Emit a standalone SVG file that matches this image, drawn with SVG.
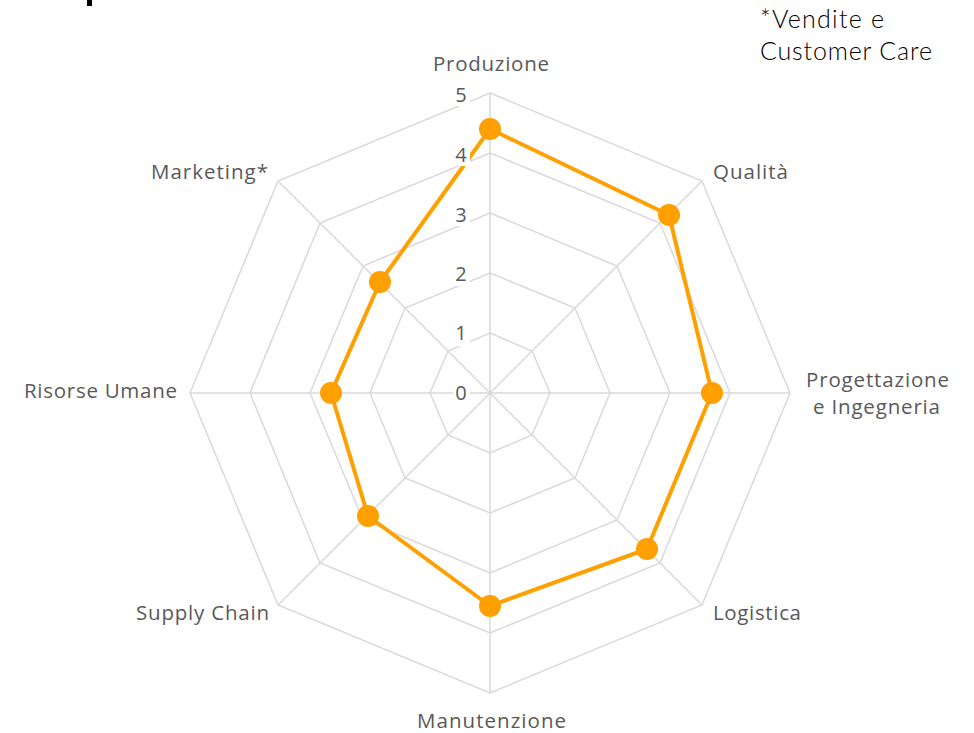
<svg xmlns="http://www.w3.org/2000/svg" width="974" height="733" viewBox="0 0 974 733">
<style>
.grid{fill:none;stroke:#d9d9d9;stroke-width:1.5}
.lbl{font-family:"Open Sans","Noto Sans",sans-serif;font-size:20.5px;fill:#595959}
.num{font-family:"Open Sans","Noto Sans",sans-serif;font-size:20px;fill:#595959;text-anchor:middle}
.note{font-family:"Lato","Liberation Sans",sans-serif;font-size:25px;font-weight:300;fill:#000}
.dot{fill:#FFA000}
</style>
<rect width="974" height="733" fill="#fff"/>
<rect x="87" y="0" width="5" height="6" fill="#000"/>
<g id="grid">
<polygon class="grid" points="490,93 702,181 790,393 702,605 490,693 278,605 190,393 278,181"/>
<polygon class="grid" points="490,153 660,223 730,393 660,563 490,633 320,563 250,393 320,223"/>
<polygon class="grid" points="490,213 617,266 670,393 617,520 490,573 363,520 310,393 363,266"/>
<polygon class="grid" points="490,273 575,308 610,393 575,478 490,513 405,478 370,393 405,308"/>
<polygon class="grid" points="490,333 532,351 550,393 532,435 490,453 448,435 430,393 448,351"/>
<path class="grid" d="M490,393V93M490,393L702,181M490,393H790M490,393L702,605M490,393V693M490,393L278,605M490,393H190M490,393L278,181"/>
</g>
<g id="series">
<polygon points="490,129 669,215 712,393 647,549 490,606 368,516 331,393 380,282" fill="none" stroke="#FFA000" stroke-width="4" stroke-linejoin="round"/>
<circle class="dot" cx="490" cy="129" r="11"/>
<circle class="dot" cx="669" cy="215" r="11"/>
<circle class="dot" cx="712" cy="393" r="11"/>
<circle class="dot" cx="647" cy="549" r="11"/>
<circle class="dot" cx="490" cy="606" r="11"/>
<circle class="dot" cx="368" cy="516" r="11"/>
<circle class="dot" cx="331" cy="393" r="11"/>
<circle class="dot" cx="380" cy="282" r="11"/>
</g>
<g id="axis-values">
<rect x="453" y="84" width="17" height="22" fill="#fff"/>
<rect x="453" y="144" width="17" height="22" fill="#fff"/>
<rect x="453" y="204" width="17" height="22" fill="#fff"/>
<rect x="453" y="264" width="17" height="22" fill="#fff"/>
<rect x="453" y="324" width="17" height="22" fill="#fff"/>
<rect x="453" y="384" width="17" height="22" fill="#fff"/>
<text class="num" x="461" y="102">5</text>
<text class="num" x="461" y="162">4</text>
<text class="num" x="461" y="222">3</text>
<text class="num" x="461" y="281">2</text>
<text class="num" x="461" y="340">1</text>
<text class="num" x="461" y="400">0</text>
</g>
<g id="n-produzione"><text class="lbl" x="433" y="71" textLength="116">Produzione</text></g>
<g id="n-qualita"><text class="lbl" x="713" y="179" textLength="75">Qualità</text></g>
<g id="n-progettazione"><text class="lbl" x="806" y="387" textLength="143">Progettazione</text><text class="lbl" x="813" y="414" textLength="127">e Ingegneria</text></g>
<g id="n-logistica"><text class="lbl" x="713" y="620" textLength="88">Logistica</text></g>
<g id="n-manutenzione"><text class="lbl" x="417" y="728" textLength="149">Manutenzione</text></g>
<g id="n-supply"><text class="lbl" x="136" y="620" textLength="133">Supply Chain</text></g>
<g id="n-risorse"><text class="lbl" x="24" y="398" textLength="153">Risorse Umane</text></g>
<g id="n-marketing"><text class="lbl" x="151" y="179" textLength="117">Marketing*</text></g>
<g id="note"><text class="note" x="760" y="28" textLength="124">*Vendite e</text><text class="note" x="760" y="60" textLength="172">Customer Care</text></g>
</svg>
